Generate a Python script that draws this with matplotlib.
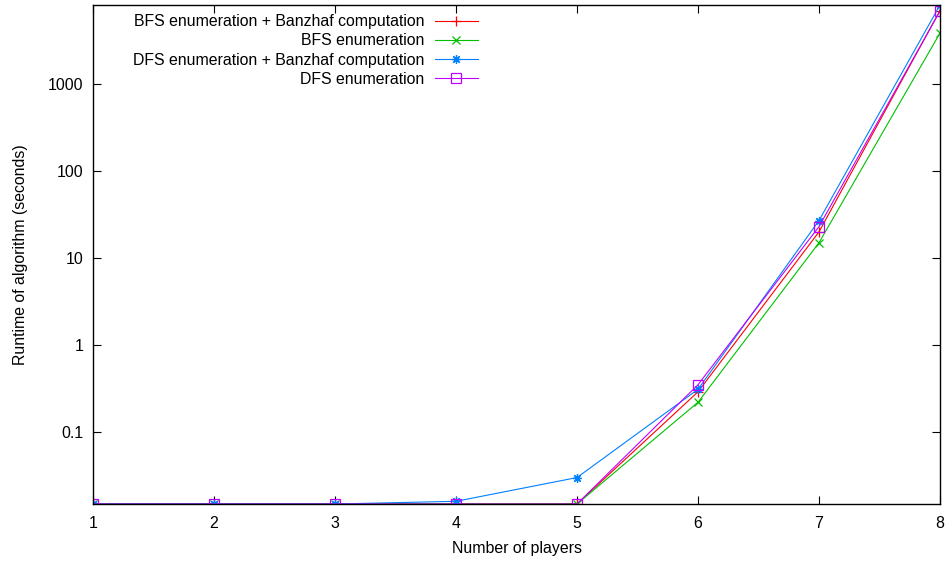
import matplotlib
matplotlib.use('Agg')

import matplotlib.pyplot as plt
from matplotlib.ticker import FixedLocator, FixedFormatter, NullLocator

# =========================
# Data
# =========================
players = [1, 2, 3, 4, 5, 6, 7, 8]

bfs_banzhaf = [0.0149, 0.0149, 0.0149, 0.0149, 0.0149, 0.29, 20, 7000]
bfs_enum = [0.0149, 0.0149, 0.0149, 0.0149, 0.0149, 0.22, 15, 3850]
dfs_banzhaf = [0.0149, 0.0149, 0.0149, 0.016, 0.030, 0.31, 27, 8100]
dfs_enum = [0.0149, 0.0149, 0.0149, 0.0149, 0.0149, 0.35, 23, 6900]

series_labels = [
    "BFS enumeration + Banzhaf computation",
    "BFS enumeration",
    "DFS enumeration + Banzhaf computation",
    "DFS enumeration",
]

y_ticks = [0.1, 1, 10, 100, 1000]
y_tick_labels = ["0.1", "1", "10", "100", "1000"]

# =========================
# Figure
# =========================
plt.rcParams['font.family'] = ['Liberation Sans', 'DejaVu Sans']
plt.rcParams['font.size'] = 11.4

fig = plt.figure(figsize=(9.51, 5.65), dpi=100)
ax = fig.add_axes([93 / 951, 1 - 504 / 565, 847 / 951, 499 / 565])

ax.plot(players, bfs_banzhaf, color='#ff0000', lw=0.8, marker='+', ms=7, mew=0.9,
        label=series_labels[0])
ax.plot(players, bfs_enum, color='#00c000', lw=0.8, marker='x', ms=5.5, mew=0.9,
        label=series_labels[1])
ax.plot(players, dfs_banzhaf, color='#0080ff', lw=0.8, marker=(8, 2, 0), ms=6.5, mew=0.9,
        label=series_labels[2])
ax.plot(players, dfs_enum, color='#c000ff', lw=0.8, marker='s', ms=6.5, mew=0.9,
        mfc='none', label=series_labels[3])

ax.set_yscale('log')
ax.set_xlim(1, 8)
ax.set_ylim(0.0149, 8100)

ax.yaxis.set_major_locator(FixedLocator(y_ticks))
ax.yaxis.set_major_formatter(FixedFormatter(y_tick_labels))
ax.yaxis.set_minor_locator(NullLocator())
ax.set_xticks(players)

ax.tick_params(direction='in', length=6, width=0.8, top=True, right=True)
ax.tick_params(axis='x', pad=9)
ax.tick_params(axis='y', pad=7)
for sp in ax.spines.values():
    sp.set_linewidth(1.0)

ax.set_xlabel("Number of players", labelpad=7)
ax.set_ylabel("Runtime of algorithm (seconds)", labelpad=14)

leg = ax.legend(loc='upper right', bbox_to_anchor=(0.465, 1.0), frameon=False,
                markerfirst=False, handlelength=2.7, handletextpad=0.65,
                labelspacing=0.27, borderpad=0.08)

fig.savefig("out.png", dpi=100)
